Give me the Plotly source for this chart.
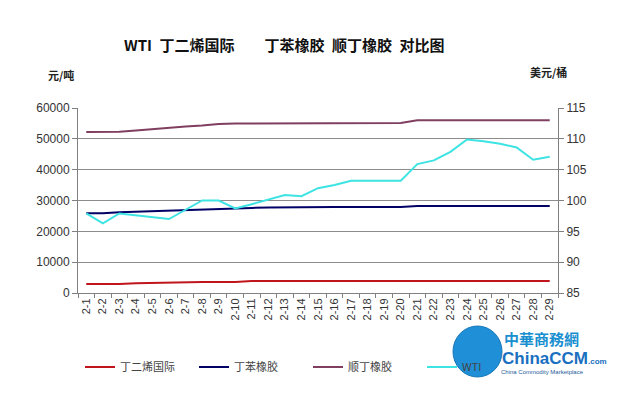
import plotly.graph_objects as go

categories = [f"2-{d}" for d in range(1, 30)]

butadiene = [2900, 2900, 2900, 3200, 3300, 3600, 3600, 3600, 3600, 3600,
             3900, 3900, 3900, 3900, 3900, 3900, 3900, 3900, 3900, 3900,
             3900, 3900, 3900, 3900, 3900, 3900, 3900, 3900, 3900]
sbr = [25900, 25900, 26200, 26400, 26500, 26800, 27000, 27100, 27300, 27500,
       27600, 27700, 27800, 27900, 27900, 27900, 27900, 27900, 27900, 27900,
       28200, 28200, 28200, 28200, 28200, 28200, 28200, 28200, 28200]
br = [52200, 52200, 52300, 52700, 53200, 53600, 54000, 54300, 54800, 55000,
      55000, 55000, 55000, 55100, 55100, 55100, 55100, 55100, 55100, 55100,
      56000, 56000, 56000, 56000, 56000, 56000, 56000, 56000, 56000]
wti = [97.9, 96.3, 97.9, 97.6, 97.3, 97.0, 98.5, 100.0, 100.0, 98.7,
       99.4, 100.1, 100.9, 100.7, 102.0, 102.5, 103.2, 103.2, 103.2, 103.2,
       105.9, 106.5, 107.9, 109.9, 109.6, 109.2, 108.6, 106.6, 107.1]

left_ticks = [0, 10000, 20000, 30000, 40000, 50000, 60000]
right_ticks = [85, 90, 95, 100, 105, 110, 115]

FONT = "Liberation Sans, Noto Sans CJK SC, sans-serif"
CJK = "Noto Sans CJK SC, sans-serif"

# page pixel -> paper coords (plot area spans page x 78..558, y 108..293)
def px(x):
    return (x - 78) / 480

def py(y):
    return (293 - y) / 185

fig = go.Figure()
fig.add_trace(go.Scatter(x=categories, y=butadiene, name="丁二烯国际", mode="lines",
                         line=dict(color="#C0151C", width=2)))
fig.add_trace(go.Scatter(x=categories, y=sbr, name="丁苯橡胶", mode="lines",
                         line=dict(color="#000066", width=2)))
fig.add_trace(go.Scatter(x=categories, y=br, name="顺丁橡胶", mode="lines",
                         line=dict(color="#803F60", width=2)))
fig.add_trace(go.Scatter(x=categories, y=wti, name="WTI", mode="lines", yaxis="y2",
                         line=dict(color="#3EE3E3", width=2)))

title_text = "<b>WTI\u2002丁二烯国际\u3000\u3000丁苯橡胶\u2002顺丁橡胶\u2002对比图</b>"

fig.update_layout(
    width=610, height=387,
    margin=dict(l=70, r=60, t=100, b=102, autoexpand=False),
    paper_bgcolor="white", plot_bgcolor="white",
    font=dict(family=FONT, size=11, color="#333333"),
    showlegend=True,
    legend=dict(orientation="h", x=px(80), y=py(367), xanchor="left", yanchor="middle",
                entrywidth=69, entrywidthmode="pixels",
                font=dict(family=CJK, size=11, color="#444444"),
                bgcolor="rgba(0,0,0,0)"),
    xaxis=dict(type="category", tickangle=-90, showgrid=False, range=[-0.5, 28.5],
               automargin=False,
               showline=True, linecolor="#808080", linewidth=1,
               ticks="outside", tickson="boundaries", ticklen=4, tickcolor="#808080",
               tickfont=dict(family=FONT, size=11, color="#333333")),
    yaxis=dict(range=[0, 60000], tickvals=left_ticks, ticktext=[str(v) for v in left_ticks],
               automargin=False,
               showgrid=True, gridcolor="#8c8c8c", gridwidth=1,
               showline=True, linecolor="#808080", linewidth=1,
               ticks="outside", ticklen=5, tickcolor="#808080", zeroline=False,
               tickfont=dict(family=FONT, size=12, color="#333333")),
    yaxis2=dict(range=[85, 115], tickvals=right_ticks, overlaying="y", side="right",
                automargin=False,
                showgrid=False, showline=True, linecolor="#808080", linewidth=1,
                ticks="outside", ticklen=5, tickcolor="#808080", zeroline=False,
                tickfont=dict(family=FONT, size=12, color="#333333")),
    annotations=[
        dict(text=title_text,
             xref="paper", yref="paper", x=px(284), y=py(45),
             xanchor="center", yanchor="middle", showarrow=False,
             font=dict(family=CJK, size=15, color="#111111")),
        dict(text="<b>元/吨</b>", xref="paper", yref="paper",
             x=px(61), y=py(75), xanchor="center", yanchor="middle",
             showarrow=False, font=dict(family=CJK, size=11, color="#222222")),
        dict(text="<b>美元/桶</b>", xref="paper", yref="paper",
             x=px(548), y=py(72), xanchor="center", yanchor="middle",
             showarrow=False, font=dict(family=CJK, size=11, color="#222222")),
        dict(text="<b>中華商務網</b>", xref="paper", yref="paper",
             x=px(502), y=py(338), xanchor="left", yanchor="middle",
             showarrow=False, font=dict(family=CJK, size=15, color="#1a8fd0")),
        dict(text="<b>ChinaCCM</b><b><span style='font-size:8px'>.com</span></b>",
             xref="paper", yref="paper",
             x=px(500), y=py(358), xanchor="left", yanchor="middle",
             showarrow=False, font=dict(family="Liberation Sans, sans-serif", size=17, color="#1a6fc0")),
        dict(text="China Commodity Marketplace", xref="paper", yref="paper",
             x=px(499), y=py(372), xanchor="left", yanchor="middle",
             showarrow=False, font=dict(family="Liberation Sans, sans-serif", size=6, color="#1a5a9a")),
    ],
    shapes=[
        dict(type="circle", xref="paper", yref="paper",
             x0=px(453), x1=px(502), y0=py(377), y1=py(326),
             fillcolor="#1f8fd8", line=dict(color="#1577b8", width=1)),
    ],
)

fig.write_html("out.html")
